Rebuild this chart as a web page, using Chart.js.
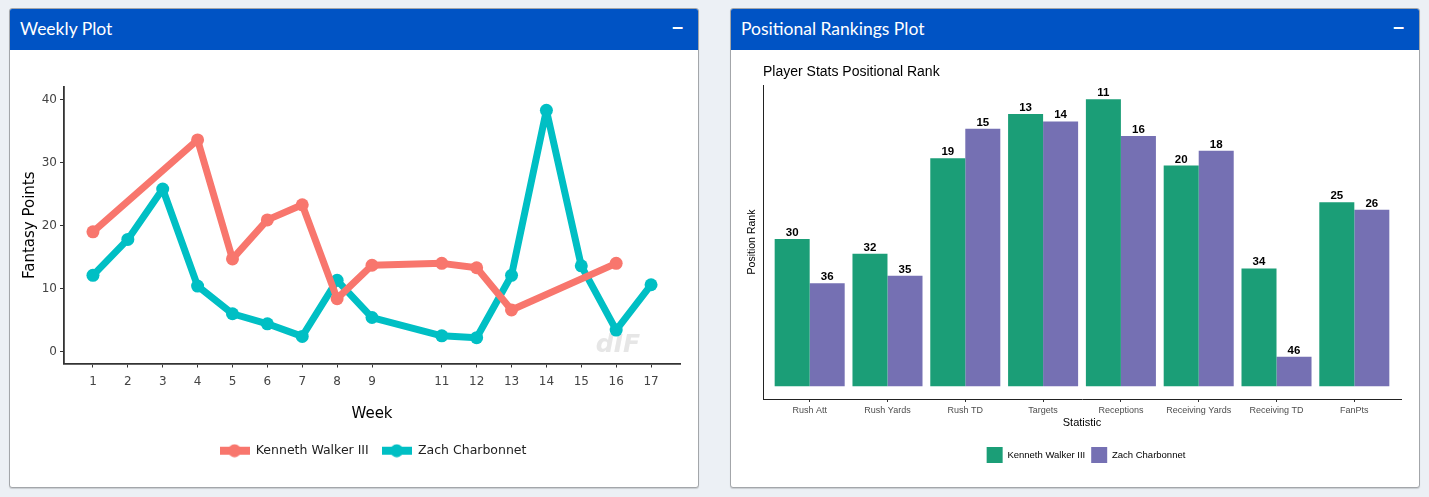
<!DOCTYPE html>
<html>
<head>
<meta charset="utf-8">
<title>Weekly Plot / Positional Rankings Plot</title>
<script src="https://cdn.jsdelivr.net/npm/chart.js@4.4.1/dist/chart.umd.min.js"></script>
<style>
  html, body { margin: 0; padding: 0; }
  body { width: 1429px; height: 497px; background: #ecf0f5; position: relative; overflow: hidden; font-family: Lato, sans-serif; }
  .box { position: absolute; top: 8px; width: 688px; height: 478px; background: #fff; border: 1px solid #a3a6aa; border-radius: 3px; box-shadow: 0 1px 1px rgba(0,0,0,.15); overflow: hidden; }
  .box-header { height: 41px; background: #0053c4; color: #fff; position: relative; }
  .box-title { position: absolute; left: 10px; top: 9px; font-size: 17.5px; }
  .box-tool { position: absolute; right: 14px; top: 5px; font-size: 22px; font-weight: bold; }
  .box canvas { position: absolute; left: 0; top: 42px; }
</style>
</head>
<body>
<div class="box" style="left:9px">
  <div class="box-header"><span class="box-title">Weekly Plot</span><span class="box-tool">&minus;</span></div>
  <canvas id="chart-weekly" width="688" height="436"></canvas>
</div>
<div class="box" style="left:730px">
  <div class="box-header"><span class="box-title">Positional Rankings Plot</span><span class="box-tool">&minus;</span></div>
  <canvas id="chart-rank" width="688" height="436"></canvas>
</div>
<script>
  /* weekly fantasy points */
  var PLAYERS = ['Kenneth Walker III', 'Zach Charbonnet'];
  var WEEKS_KW = [1, 4, 5, 6, 7, 8, 9, 11, 12, 13, 16];
  var POINTS_KW = [19.0, 33.6, 14.7, 20.9, 23.3, 8.4, 13.7, 14.0, 13.3, 6.6, 14.0];
  var WEEKS_ZC = [1, 2, 3, 4, 5, 6, 7, 8, 9, 11, 12, 13, 14, 15, 16, 17];
  var POINTS_ZC = [12.1, 17.8, 25.8, 10.4, 6.0, 4.4, 2.4, 11.3, 5.4, 2.5, 2.2, 12.1, 38.3, 13.6, 3.4, 10.6];
  var WEEK_TICKS = [1, 2, 3, 4, 5, 6, 7, 8, 9, 11, 12, 13, 14, 15, 16, 17];
  var POINT_TICKS = [0, 10, 20, 30, 40];

  /* positional ranks (lower rank = taller bar) */
  var STATS = ['Rush Att', 'Rush Yards', 'Rush TD', 'Targets', 'Receptions', 'Receiving Yards', 'Receiving TD', 'FanPts'];
  var RANK_KW = [30, 32, 19, 13, 11, 20, 34, 25];
  var RANK_ZC = [36, 35, 15, 14, 16, 18, 46, 26];
  var RANK_CEILING = 50;
  var RANK_TITLE = 'Player Stats Positional Rank';

  var LINE_COLORS = ['#f8766d', '#00bfc4'];
  var BAR_COLORS = ['#1b9e77', '#7570b3'];
  var SANS = '"DejaVu Sans", Verdana, sans-serif';
  var ARIAL = '"Liberation Sans", Arial, sans-serif';

  Chart.defaults.animation = false;

  function points(weeks, values) {
    return weeks.map(function (w, i) { return { x: w, y: values[i] }; });
  }

  function swatch(color) {
    var c = document.createElement('canvas');
    c.width = 30; c.height = 14;
    var g = c.getContext('2d');
    g.fillStyle = color;
    g.fillRect(0, 3, 30, 8);
    g.beginPath();
    g.arc(15, 7, 6.5, 0, Math.PI * 2);
    g.fill();
    return c;
  }

  var legendShift = {
    id: 'legendShift',
    afterLayout: function (chart, args, opts) {
      if (chart.legend && opts.dx) {
        chart.legend.left += opts.dx;
        chart.legend.right += opts.dx;
      }
    }
  };

  var watermark = {
    id: 'watermark',
    beforeDatasetsDraw: function (chart) {
      var ctx = chart.ctx, a = chart.chartArea;
      ctx.save();
      ctx.font = 'italic bold 25px ' + SANS;
      ctx.fillStyle = '#e6e6e6';
      ctx.textAlign = 'center';
      ctx.textBaseline = 'middle';
      ctx.fillText('dIF', a.right - 62, a.bottom - 18);
      ctx.restore();
    }
  };

  var rankLabels = {
    id: 'rankLabels',
    afterDatasetsDraw: function (chart) {
      var ctx = chart.ctx;
      var ranks = [RANK_KW, RANK_ZC];
      ctx.save();
      ctx.font = 'bold 11.5px ' + ARIAL;
      ctx.fillStyle = '#000';
      ctx.textAlign = 'center';
      ctx.textBaseline = 'alphabetic';
      chart.data.datasets.forEach(function (ds, d) {
        chart.getDatasetMeta(d).data.forEach(function (bar, i) {
          ctx.fillText(ranks[d][i], bar.x, bar.y - 3);
        });
      });
      ctx.restore();
    }
  };

  var plotTitle = {
    id: 'plotTitle',
    afterDraw: function (chart) {
      var ctx = chart.ctx;
      ctx.save();
      ctx.font = '14px ' + ARIAL;
      ctx.fillStyle = '#000';
      ctx.textAlign = 'left';
      ctx.textBaseline = 'middle';
      ctx.fillText(RANK_TITLE, chart.chartArea.left, 21);
      ctx.restore();
    }
  };

  function lineSet(label, weeks, values, color) {
    return {
      label: label,
      data: points(weeks, values),
      borderColor: color,
      backgroundColor: color,
      borderWidth: 7,
      borderJoinStyle: 'round',
      borderCapStyle: 'round',
      pointRadius: 6.5,
      pointHoverRadius: 6.5,
      pointBorderWidth: 0,
      pointBackgroundColor: color,
      tension: 0
    };
  }

  new Chart(document.getElementById('chart-weekly'), {
    type: 'line',
    data: {
      datasets: [
        lineSet(PLAYERS[0], WEEKS_KW, POINTS_KW, LINE_COLORS[0]),
        lineSet(PLAYERS[1], WEEKS_ZC, POINTS_ZC, LINE_COLORS[1])
      ]
    },
    options: {
      responsive: false,
      layout: { padding: { top: 36, right: 18, bottom: 20, left: 0 } },
      plugins: {
        tooltip: { enabled: false },
        legendShift: { dx: 28 },
        legend: {
          position: 'bottom',
          labels: {
            usePointStyle: true,
            pointStyleWidth: 30,
            padding: 13,
            color: '#222',
            font: { family: SANS, size: 12.5 },
            generateLabels: function (chart) {
              var items = Chart.defaults.plugins.legend.labels.generateLabels(chart);
              items.forEach(function (it, i) { it.pointStyle = swatch(LINE_COLORS[i]); });
              return items;
            }
          }
        }
      },
      scales: {
        x: {
          type: 'linear',
          min: 0.17,
          max: 17.83,
          afterBuildTicks: function (s) { s.ticks = WEEK_TICKS.map(function (v) { return { value: v }; }); },
          afterFit: function (s) { s.height = 68; },
          grid: { display: true, drawOnChartArea: false, drawTicks: true, tickLength: 4, color: '#333' },
          border: { display: true, color: '#333', width: 1.8 },
          ticks: { color: '#444', padding: 7, maxRotation: 0, autoSkip: false, font: { family: SANS, size: 12 } },
          title: { display: true, text: 'Week', color: '#000', padding: 8, font: { family: SANS, size: 15 } }
        },
        y: {
          min: -1.9,
          max: 42,
          afterBuildTicks: function (s) { s.ticks = POINT_TICKS.map(function (v) { return { value: v }; }); },
          afterFit: function (s) { s.width = 54; },
          grid: { display: true, drawOnChartArea: false, drawTicks: true, tickLength: 4, color: '#333' },
          border: { display: true, color: '#333', width: 1.8 },
          ticks: { color: '#444', padding: 3, font: { family: SANS, size: 12 } },
          title: { display: true, text: 'Fantasy Points', color: '#000', padding: { top: 11, bottom: 0 }, font: { family: SANS, size: 15 } }
        }
      }
    },
    plugins: [legendShift, watermark]
  });

  function barSet(label, ranks, color) {
    return {
      label: label,
      data: ranks.map(function (r, i) { return { x: i, y: RANK_CEILING - r }; }),
      backgroundColor: color,
      borderWidth: 0,
      categoryPercentage: 0.9,
      barPercentage: 1.0
    };
  }

  new Chart(document.getElementById('chart-rank'), {
    type: 'bar',
    data: {
      datasets: [
        barSet(PLAYERS[0], RANK_KW, BAR_COLORS[0]),
        barSet(PLAYERS[1], RANK_ZC, BAR_COLORS[1])
      ]
    },
    options: {
      responsive: false,
      layout: { padding: { top: 34, right: 18, bottom: 14, left: 0 } },
      plugins: {
        tooltip: { enabled: false },
        legendShift: { dx: 20 },
        legend: {
          position: 'bottom',
          labels: { boxWidth: 16, boxHeight: 16, padding: 6, color: '#000', font: { family: ARIAL, size: 9.5 } }
        }
      },
      scales: {
        x: {
          type: 'linear',
          min: -0.6,
          max: 7.6,
          offset: false,
          afterBuildTicks: function (s) { s.ticks = STATS.map(function (c, i) { return { value: i }; }); },
          afterFit: function (s) { s.height = 42; },
          grid: { display: true, offset: false, drawOnChartArea: false, drawTicks: true, tickLength: 3, color: '#333' },
          border: { display: true, color: '#222', width: 1 },
          ticks: {
            color: '#4d4d4d', padding: 3, maxRotation: 0, autoSkip: false, font: { family: ARIAL, size: 9 },
            callback: function (v) { return STATS[Math.round(v)]; }
          },
          title: { display: true, text: 'Statistic', color: '#000', padding: 11, font: { family: ARIAL, size: 11 } }
        },
        y: {
          min: -1.75,
          max: 40.95,
          afterFit: function (s) { s.width = 32; },
          grid: { display: false, drawTicks: false },
          border: { display: true, color: '#222', width: 1 },
          ticks: { display: false },
          title: { display: true, text: 'Position Rank', color: '#000', padding: { top: 15, bottom: 0 }, font: { family: ARIAL, size: 10.5 } }
        }
      }
    },
    plugins: [legendShift, rankLabels, plotTitle]
  });
</script>
</body>
</html>
